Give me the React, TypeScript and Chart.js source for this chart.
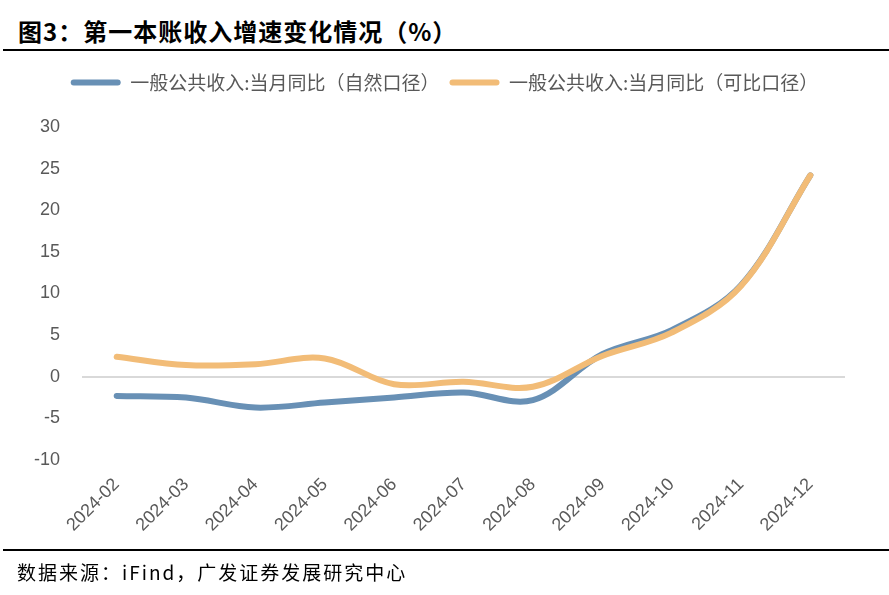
import React, { useEffect, useRef } from "react";
import { Chart, registerables } from "chart.js";

Chart.register(...registerables);

const categories = [
  "2024-02", "2024-03", "2024-04", "2024-05", "2024-06", "2024-07",
  "2024-08", "2024-09", "2024-10", "2024-11", "2024-12",
];
const naturalValues = [-2.3, -2.5, -3.7, -3.1, -2.5, -1.9, -2.8, 2.7, 5.6, 11.0, 24.2];
const comparableValues = [2.4, 1.4, 1.5, 2.2, -0.9, -0.6, -1.2, 2.5, 5.3, 10.9, 24.2];
const seriesNames = [
  "一般公共收入:当月同比（自然口径）",
  "一般公共收入:当月同比（可比口径）",
];
const yTicks = { min: -10, max: 30, step: 5 };

const BLUE = "#6890b5";
const ORANGE = "#f2bc77";
const GREY = "#595959";

export default function App() {
  const canvasRef = useRef<HTMLCanvasElement | null>(null);

  useEffect(() => {
    const canvas = canvasRef.current;
    if (!canvas) return;
    const chart = new Chart(canvas, {
      type: "line",
      data: {
        labels: categories,
        datasets: [
          {
            label: seriesNames[0],
            data: naturalValues,
            borderColor: BLUE,
            backgroundColor: BLUE,
            borderWidth: 6,
            pointRadius: 0,
            tension: 0.35,
            borderCapStyle: "round",
            borderJoinStyle: "round",
            order: 2,
            yAxisID: "y",
          },
          {
            label: seriesNames[1],
            data: comparableValues,
            borderColor: ORANGE,
            backgroundColor: ORANGE,
            borderWidth: 6,
            pointRadius: 0,
            tension: 0.35,
            borderCapStyle: "round",
            borderJoinStyle: "round",
            order: 1,
            yAxisID: "y",
          },
        ],
      },
      options: {
        responsive: false,
        animation: false,
        layout: { padding: { top: 63, left: 0, right: 0, bottom: 55 } },
        plugins: {
          tooltip: { enabled: false },
          title: { display: false },
          subtitle: {
            display: true,
            text: " ",
            position: "top",
            weight: 0,
            padding: 0,
            font: { size: 20, lineHeight: 1.25 },
          },
          legend: {
            display: true,
            position: "top",
            labels: {
              color: GREY,
              font: { family: "'Noto Sans CJK SC', sans-serif", size: 19 },
              boxWidth: 50,
              boxHeight: 6,
              padding: 10,
              useBorderRadius: true,
              borderRadius: 3,
              sort: (a: any, b: any) => a.datasetIndex - b.datasetIndex,
              generateLabels: (c: any) => {
                const items = Chart.defaults.plugins.legend.labels.generateLabels(c);
                return items.map((it: any) => ({
                  ...it,
                  lineWidth: 0,
                  fillStyle: c.data.datasets[it.datasetIndex].borderColor,
                  strokeStyle: "rgba(0,0,0,0)",
                }));
              },
            },
          },
        },
        scales: {
          x: {
            type: "category",
            offset: true,
            grid: { display: false, drawTicks: false },
            border: { display: false },
            ticks: {
              color: GREY,
              font: { family: "'Liberation Sans', Arial, sans-serif", size: 18 },
              maxRotation: 45,
              minRotation: 45,
              autoSkip: false,
              padding: 14,
            },
            afterFit: (s: any) => {
              s.height = 80;
            },
          },
          y: {
            position: "left",
            min: yTicks.min,
            max: yTicks.max,
            grid: {
              drawTicks: false,
              lineWidth: 2,
              color: (ctx: any) => (ctx.tick && ctx.tick.value === 0 ? "#d9d9d9" : "rgba(0,0,0,0)"),
            },
            border: { display: false },
            ticks: {
              stepSize: yTicks.step,
              color: GREY,
              font: { family: "'Liberation Sans', Arial, sans-serif", size: 18 },
              padding: 22,
            },
            afterFit: (s: any) => {
              s.width = 82;
            },
          },
          yRight: {
            position: "right",
            min: yTicks.min,
            max: yTicks.max,
            display: true,
            grid: { display: false, drawTicks: false },
            border: { display: false },
            ticks: { display: false },
            afterFit: (s: any) => {
              s.width = 44;
            },
          },
        },
      },
    });
    return () => chart.destroy();
  }, []);

  return (
    <div
      style={{
        position: "fixed",
        left: 0,
        top: 0,
        width: 889,
        height: 595,
        background: "#ffffff",
        overflow: "hidden",
      }}
    >
      <div
        style={{
          position: "absolute",
          left: 18,
          top: 13,
          fontFamily: "'Noto Sans CJK SC', sans-serif",
          fontWeight: 700,
          fontSize: 24,
          lineHeight: "36px",
          letterSpacing: 1,
          color: "#000",
          whiteSpace: "nowrap",
        }}
      >
        图3：第一本账收入增速变化情况（%）
      </div>
      <div
        style={{
          position: "absolute",
          left: 3,
          top: 49,
          width: 886,
          height: 2,
          background: "#000",
        }}
      />
      <canvas
        ref={canvasRef}
        width={889}
        height={595}
        style={{ position: "absolute", left: 0, top: 0, width: 889, height: 595 }}
      />
      <div
        style={{
          position: "absolute",
          left: 3,
          top: 549,
          width: 886,
          height: 2,
          background: "#000",
        }}
      />
      <div
        style={{
          position: "absolute",
          left: 17,
          top: 557,
          fontFamily: "'Noto Sans CJK SC', sans-serif",
          fontSize: 19,
          lineHeight: "30px",
          letterSpacing: 2,
          color: "#000",
          whiteSpace: "nowrap",
        }}
      >
        数据来源：iFind，广发证券发展研究中心
      </div>
    </div>
  );
}
